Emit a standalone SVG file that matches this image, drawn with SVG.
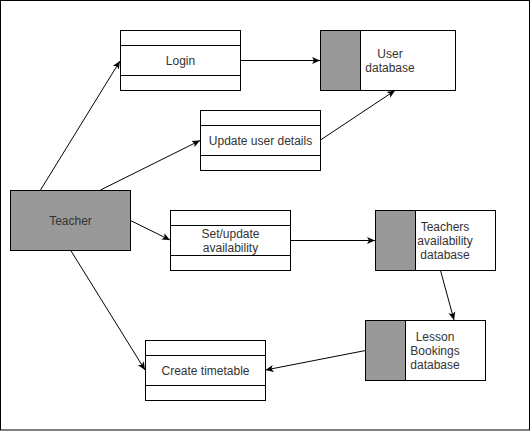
<svg xmlns="http://www.w3.org/2000/svg" width="531" height="431" viewBox="0 0 531 431">
<style>
.box{fill:#fff;stroke:#000;stroke-width:1}
.gray{fill:#999;stroke:#000;stroke-width:1}
.div{stroke:#000;stroke-width:1;fill:none}
.t{font-family:"Liberation Sans",Arial,sans-serif;font-size:12px;fill:#333;text-anchor:middle}
.c{stroke:#000;stroke-width:1;fill:none;marker-end:url(#arr)}
</style>
<defs>
<marker id="arr" viewBox="0 0 8 8" refX="8" refY="4" markerWidth="8" markerHeight="8" markerUnits="userSpaceOnUse" orient="auto">
<path d="M0,0.5 L8,4 L0,7.5 L2,4 Z" fill="#000" stroke="none"/>
</marker>
</defs>
<rect x="0.5" y="0.5" width="529" height="429.5" fill="#fff" stroke="#000" stroke-width="1"/>
<g id="connectors">
<line class="c" x1="40.5" y1="190" x2="120" y2="61"/>
<line class="c" x1="100.5" y1="190" x2="200" y2="140.5"/>
<line class="c" x1="240.5" y1="60.5" x2="320" y2="60.5"/>
<line class="c" x1="320.5" y1="140" x2="395" y2="90.5"/>
<line class="c" x1="130.5" y1="220.5" x2="170" y2="240"/>
<line class="c" x1="70.5" y1="250" x2="145" y2="370"/>
<line class="c" x1="290.5" y1="240.5" x2="375" y2="240.5"/>
<line class="c" x1="440.5" y1="270.5" x2="454" y2="320"/>
<line class="c" x1="365.5" y1="350.5" x2="265.5" y2="370"/>
</g>
<g id="teacher">
<rect class="gray" x="10.5" y="190.5" width="120" height="60"/>
<text class="t" x="70.5" y="225">Teacher</text>
</g>
<g id="login">
<rect class="box" x="120.5" y="30.5" width="120" height="60"/>
<path class="div" d="M120.5,45.5 H240.5 M120.5,75.5 H240.5"/>
<text class="t" x="180.5" y="65">Login</text>
</g>
<g id="update-user-details">
<rect class="box" x="200.5" y="110.5" width="120" height="60"/>
<path class="div" d="M200.5,125.5 H320.5 M200.5,155.5 H320.5"/>
<text class="t" x="260.5" y="145">Update user details</text>
</g>
<g id="set-update-availability">
<rect class="box" x="170.5" y="210.5" width="120" height="60"/>
<path class="div" d="M170.5,225.5 H290.5 M170.5,255.5 H290.5"/>
<text class="t" x="230.5" y="238">Set/update</text>
<text class="t" x="230.5" y="252">availability</text>
</g>
<g id="create-timetable">
<rect class="box" x="145.5" y="340.5" width="120" height="60"/>
<path class="div" d="M145.5,355.5 H265.5 M145.5,385.5 H265.5"/>
<text class="t" x="205.5" y="375">Create timetable</text>
</g>
<g id="user-database">
<rect class="box" x="320.5" y="30.5" width="135" height="60"/>
<rect class="gray" x="320.5" y="30.5" width="40" height="60"/>
<text class="t" x="390" y="58">User</text>
<text class="t" x="390" y="72">database</text>
</g>
<g id="teachers-availability-database">
<rect class="box" x="375.5" y="210.5" width="120" height="60"/>
<rect class="gray" x="375.5" y="210.5" width="40" height="60"/>
<text class="t" x="445" y="231">Teachers</text>
<text class="t" x="445" y="245">availability</text>
<text class="t" x="445" y="259">database</text>
</g>
<g id="lesson-bookings-database">
<rect class="box" x="365.5" y="320.5" width="120" height="60"/>
<rect class="gray" x="365.5" y="320.5" width="40" height="60"/>
<text class="t" x="435" y="341">Lesson</text>
<text class="t" x="435" y="355">Bookings</text>
<text class="t" x="435" y="369">database</text>
</g>
</svg>
